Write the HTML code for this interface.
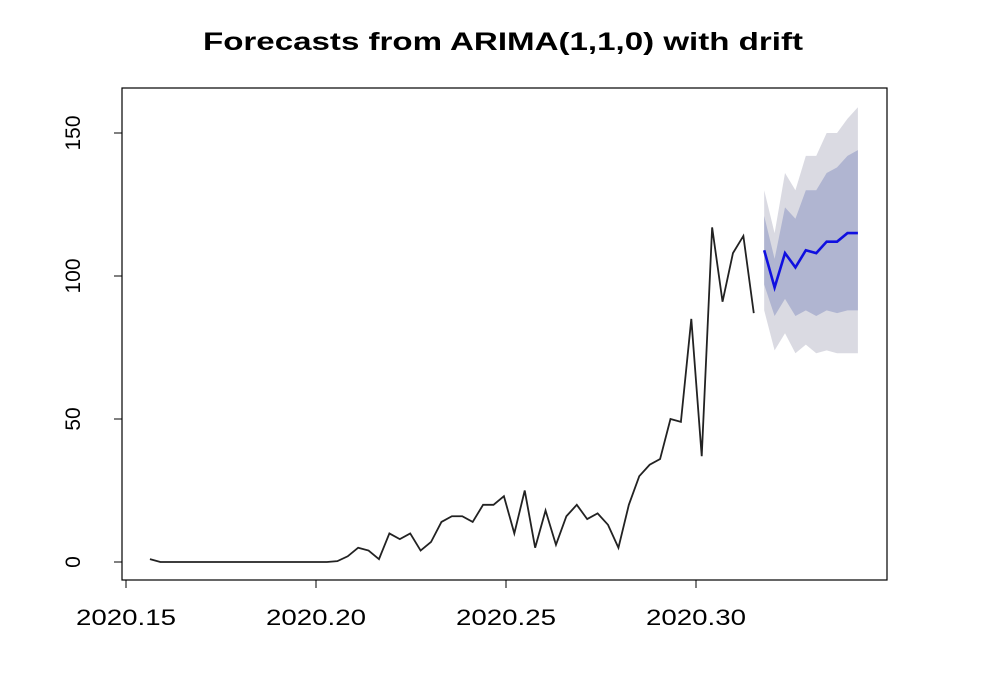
<!DOCTYPE html>
<html><head><meta charset="utf-8"><style>
html,body{margin:0;padding:0;background:#fff;}
svg{display:block;font-family:"Liberation Sans",Arial,sans-serif;}
</style></head><body>
<svg id="chart" width="998" height="682" viewBox="0 0 998 682">
<text x="503" y="50" text-anchor="middle" font-size="25" font-weight="bold" textLength="600" lengthAdjust="spacingAndGlyphs">Forecasts from ARIMA(1,1,0) with drift</text>
<rect x="122" y="88" width="765" height="492" fill="none" stroke="#000" stroke-width="1.2"/>
<g id="bands"></g><g id="lines"></g><g id="axes"></g>
</svg>
<script>
const obsStart = 2020.1563;
const step = 1/365;
const observed = [1,0,0,0,0,0,0,0,0,0,0,0,0,0,0,0,0,0,0.3,2,5,4,1,10,8,10,4,7,14,16,16,14,20,20,23,10,25,5,18,6,16,20,15,17,13,5,20,30,34,36,50,49,85,37,117,91,108,114,87];
const forecast = [109,96,108,103,109,108,112,112,115,115];
const hi95 = [130,115,136,130,142,142,150,150,155,159];
const hi80 = [121,106,124,120,130,130,136,138,142,144];
const lo80 = [97,86,92,86,88,86,88,87,88,88];
const lo95 = [88,74,80,73,76,73,74,73,73,73];
const xTicks = [2020.15,2020.20,2020.25,2020.30];
const xTickLabels = ["2020.15","2020.20","2020.25","2020.30"];
const yTicks = [0,50,100,150];
const yTickLabels = ["0","50","100","150"];

const X = t => 126 + (t-2020.15)*3800;
const Y = v => 562 - v*2.86;
const NS="http://www.w3.org/2000/svg";
function mk(tag, attrs, parent){const e=document.createElementNS(NS,tag);for(const k in attrs)e.setAttribute(k,attrs[k]);parent.appendChild(e);return e;}
const bands=document.getElementById('bands'), lines=document.getElementById('lines'), axes=document.getElementById('axes');
const fStart = observed.length;
const fx = i => X(obsStart+(fStart+i)*step);
function band(hi,lo,color,name){
  let pts=hi.map((v,i)=>fx(i)+","+Y(v));
  for(let i=lo.length-1;i>=0;i--)pts.push(fx(i)+","+Y(lo[i]));
  const p=mk('polygon',{points:pts.join(' '),fill:color},bands);
  
  
}
band(hi95,lo95,'#dadae2','band-95');
band(hi80,lo80,'#b0b5d1','band-80');
const obs=mk('polyline',{points:observed.map((v,i)=>X(obsStart+i*step)+","+Y(v)).join(' '),fill:'none',stroke:'#222',"stroke-width":1.8},lines);


const fl=mk('polyline',{points:forecast.map((v,i)=>fx(i)+","+Y(v)).join(' '),fill:'none',stroke:'#1010e0',"stroke-width":2.6},lines);


const xa=mk('line',{x1:X(xTicks[0]),x2:X(xTicks[xTicks.length-1]),y1:580,y2:580,stroke:'#000'},axes);


xTicks.forEach((t,i)=>{
  mk('line',{x1:X(t),x2:X(t),y1:580,y2:588,stroke:'#000'},axes);
  const tx=mk('text',{x:X(t),y:625,"text-anchor":"middle","font-size":22,textLength:100,lengthAdjust:"spacingAndGlyphs"},axes);
  tx.textContent=xTickLabels[i];
  
  
});
const ya=mk('line',{x1:122,x2:122,y1:Y(yTicks[0]),y2:Y(yTicks[yTicks.length-1]),stroke:'#000'},axes);


yTicks.forEach((v,i)=>{
  mk('line',{x1:114,x2:122,y1:Y(v),y2:Y(v),stroke:'#000'},axes);
  const tx=mk('text',{x:0,y:0,"text-anchor":"middle","font-size":21,transform:`translate(80,${Y(v)}) rotate(-90)`},axes);
  tx.textContent=yTickLabels[i];
  
  
});
</script>
</body></html>
